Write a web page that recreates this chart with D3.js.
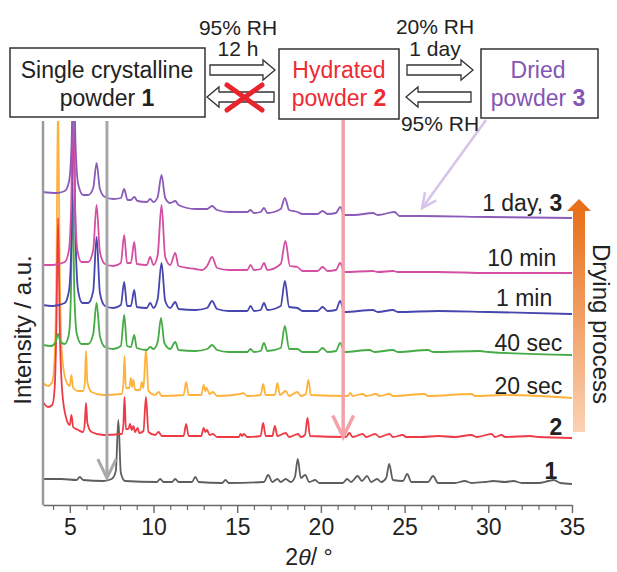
<!DOCTYPE html>
<html>
<head>
<meta charset="utf-8">
<script src="https://cdn.jsdelivr.net/npm/d3@7/dist/d3.min.js"></script>
<style>
  body { margin: 0; background: #fff; }
  svg { display: block; font-family: 'Liberation Sans', Arial, sans-serif; }
</style>
</head>
<body>
<div id="chart"></div>
<script>
// Data: PXRD patterns, [2theta (deg), intensity above the pattern's offset (a.u.)]
const pattern1 = [[3.4,4],[4.5,4],[5.4,3],[5.6,6],[5.8,3],[7.0,2],[7.5,4],[7.75,12],[7.9,63],[8.05,10],[8.3,2],[10.2,1],[10.4,4],[10.6,1],[11.1,1],[11.3,4],[11.5,1],[12.3,1],[12.5,6],[12.7,1],[14.1,0],[14.3,3],[14.5,0],[16.6,1],[16.85,8],[17.1,1],[17.4,4],[17.6,1],[17.9,4],[18.2,1],[18.45,6],[18.62,24],[18.8,5],[19.06,8],[19.3,1],[19.66,3],[19.9,0],[21.3,0],[21.57,4],[21.8,1],[22.2,7],[22.45,2],[22.76,7],[23.0,1],[23.36,4],[23.6,1],[23.9,5],[24.08,19],[24.3,3],[24.9,2],[25.16,9],[25.4,1],[26.4,1],[26.7,7],[27.0,0],[28,0],[28.6,2],[29,0],[29.8,1],[30.3,2],[31,1],[31.5,2],[32,0],[33.0,0],[33.6,2],[33.9,3],[34.3,0],[35,-1]]
const pattern2 = [[3.4,35],[3.7,30],[3.95,32],[4.1,50],[4.2,110],[4.3,219],[4.4,110],[4.55,45],[4.8,18],[5.0,12],[5.1,22],[5.2,10],[5.5,7],[5.8,5],[5.9,15],[5.97,34],[6.05,14],[6.3,5],[7,2],[8.1,3],[8.2,12],[8.27,40],[8.35,8],[8.5,8],[8.6,13],[8.7,7],[8.8,11],[8.9,5],[9.05,9],[9.15,4],[9.4,6],[9.55,40],[9.7,5],[10.1,2],[10.3,5],[10.5,1],[11.8,1],[11.95,13],[12.1,1],[12.85,1],[13.0,9],[13.1,5],[13.2,7],[13.35,2],[13.55,3],[13.8,0],[15.1,0],[15.2,3],[15.3,1],[15.4,3],[15.6,0],[16.4,1],[16.55,14],[16.7,1],[17.1,1],[17.25,11],[17.4,1],[17.9,4],[18.1,0],[18.64,3],[18.8,0],[19.05,2],[19.2,19],[19.35,1],[21.5,0],[21.7,4],[21.9,0],[22.5,3],[22.7,0],[23.25,3],[23.5,0],[24.1,3],[24.3,0],[24.9,2],[25.1,0],[26,0],[27,1],[28,0],[29.0,2],[29.3,0],[30.2,3],[30.4,0],[30.8,2],[31.0,0],[32.5,1],[33,0],[35,-1]]
const pattern20s = [[3.4,13],[3.7,10],[3.95,14],[4.1,40],[4.2,120],[4.3,300],[4.4,120],[4.55,38],[4.8,14],[5.0,10],[5.1,21],[5.2,8],[5.5,5],[5.8,5],[5.9,14],[5.97,45],[6.05,14],[6.3,4],[7,1],[8.1,2],[8.2,12],[8.27,40],[8.35,8],[8.55,8],[8.65,18],[8.72,9],[8.8,16],[8.9,6],[9.2,6],[9.3,14],[9.4,8],[9.55,47],[9.7,5],[10.1,1],[10.3,4],[10.5,0],[11.8,1],[11.95,14],[12.1,1],[12.85,1],[13.0,11],[13.1,5],[13.17,8],[13.35,2],[13.55,4],[13.8,0],[15.2,2],[15.35,3],[15.6,0],[16.4,1],[16.55,12],[16.7,1],[17.25,1],[17.4,13],[17.55,1],[17.9,5],[18.1,0],[18.6,4],[18.8,0],[19.1,2],[19.25,16],[19.4,1],[21.6,0],[21.75,3],[21.9,0],[22.5,2],[22.7,0],[23.3,2],[23.5,0],[24.1,2],[24.3,0],[26.2,2],[26.4,0],[29,2],[29.2,0],[31,1],[33,0],[35,-2]]
const pattern40s = [[3.4,7],[3.9,6],[4.15,10],[4.3,18],[4.45,10],[4.7,8],[4.95,18],[5.07,60],[5.17,170],[5.27,60],[5.42,18],[5.7,8],[6.1,8],[6.4,18],[6.6,49],[6.8,16],[7.1,5],[7.6,3],[8.05,6],[8.25,37],[8.42,6],[8.65,5],[8.85,17],[9.0,4],[9.6,2],[9.8,5],[10.0,3],[10.25,10],[10.45,34],[10.65,9],[11.0,3],[11.3,10],[11.5,2],[12.5,1],[13.2,3],[13.5,7],[13.8,2],[14.5,0],[15.6,0],[15.8,3],[16.0,0],[16.4,1],[16.6,9],[16.8,1],[17.6,4],[17.85,26],[18.1,3],[18.6,3],[18.9,0],[19.8,0],[20.1,4],[20.4,0],[20.9,1],[21.15,9],[21.4,0],[22.9,2],[23.2,0],[24.3,2],[24.6,0],[26.4,2],[26.7,0],[29.5,1],[30,0],[35,-3]]
const pattern1min = [[3.4,6],[4.0,5],[4.7,8],[4.95,20],[5.1,70],[5.22,200],[5.35,70],[5.5,20],[5.75,8],[6.1,8],[6.4,20],[6.6,74],[6.8,18],[7.1,5],[7.6,3],[8.05,6],[8.25,29],[8.42,5],[8.65,5],[8.85,21],[9.0,4],[9.6,3],[9.8,8],[10.0,3],[10.25,12],[10.48,48],[10.7,10],[11.0,3],[11.3,9],[11.5,2],[12.5,1],[13.2,3],[13.5,10],[13.8,2],[14.5,0],[15.6,0],[15.8,5],[16.0,0],[16.4,1],[16.6,8],[16.8,1],[17.6,5],[17.85,30],[18.1,4],[18.6,3],[18.9,0],[19.8,0],[20.1,4],[20.4,0],[20.9,1],[21.15,10],[21.4,-1],[23.1,1],[23.4,-1],[24.3,1],[24.6,-1],[27,0],[30,-1],[35,-3]]
const pattern10min = [[3.4,3],[4.0,3],[4.7,6],[4.95,18],[5.08,60],[5.2,160],[5.32,60],[5.45,18],[5.7,6],[6.1,6],[6.4,18],[6.6,63],[6.8,16],[7.1,4],[7.6,2],[8.05,5],[8.25,33],[8.42,5],[8.65,5],[8.85,26],[9.0,4],[9.6,3],[9.8,11],[10.0,3],[10.25,13],[10.48,63],[10.7,11],[11.0,3],[11.3,15],[11.5,2],[12.5,-1],[12.9,-2],[13.2,2],[13.5,11],[13.8,0],[14.5,-2],[15.6,-2],[15.8,3],[16.0,-2],[16.4,-1],[16.6,5],[16.8,-2],[17.6,4],[17.88,27],[18.15,2],[18.6,1],[18.9,-3],[19.8,-3],[20.1,1],[20.4,-3],[20.9,-2],[21.15,5],[21.4,-4],[23.1,-3],[23.4,-4],[24.3,-3],[24.6,-4],[27,-4],[30,-5],[35,-5]]
const pattern1day = [[3.4,0],[4.2,-1],[4.7,1],[4.95,10],[5.1,45],[5.22,130],[5.35,45],[5.5,8],[5.8,-3],[6.1,-3],[6.4,4],[6.6,29],[6.8,3],[7.1,-5],[7.6,-7],[8.05,-6],[8.25,3],[8.45,-8],[8.65,-8],[8.85,-5],[9.05,-9],[9.6,-10],[9.8,-7],[10.0,-10],[10.25,-5],[10.48,17],[10.7,-6],[11.0,-11],[11.3,-9],[11.5,-13],[12.5,-17],[13.2,-17],[13.5,-14],[13.8,-18],[14.5,-20],[15.6,-20],[15.8,-18],[16.0,-21],[16.4,-20],[16.6,-16],[16.8,-21],[17.6,-17],[17.85,-6],[18.1,-18],[18.6,-20],[18.9,-22],[19.8,-22],[20.1,-19],[20.4,-22],[20.9,-21],[21.15,-15],[21.4,-23],[22.0,-23],[23.1,-21],[23.4,-23],[24.4,-20],[24.7,-24],[26,-24],[30,-25],[35,-26]]

// stacking offsets (a.u.), bottom to top
const offsets = [22, 68, 109, 153, 194, 237, 313]
const seriesColors = ['#5e5e5e', '#ee3a45', '#ffb23a', '#45ab45', '#4646ae', '#d44ea2', '#8a5bb8']
// trace labels: [normal part, bold part], anchor 2theta, baseline level (a.u.)
const labelText = [['', '1'], ['', '2'], ['20 sec', ''], ['40 sec', ''], ['1 min', ''], ['10 min', ''], ['1 day, ', '3']]
const labelX = [34.12, 34.42, 34.42, 34.42, 33.82, 34.06, 34.42]
const labelLevel = [26, 70, 111, 154, 199, 239, 294]

const majorTicks = [5, 10, 15, 20, 25, 30, 35]
const minorTicks = d3.range(4, 36)

// annotation arrows: 2theta, tip level (a.u.)
const grayArrow = [7.22, 27]
const pinkArrow = [21.33, 68]
const lilacArrow = [26.05, 297]

function draw() {
  const patterns = [pattern1, pattern2, pattern20s, pattern40s, pattern1min, pattern10min, pattern1day]
  const drawOrder = [0, 2, 1, 3, 4, 5, 6]

  let dimensions = {
    width: 617,
    height: 572,
    margins: { top: 121, bottom: 67, left: 43, right: 45 }
  }
  dimensions.ctrWidth = dimensions.width - dimensions.margins.left - dimensions.margins.right
  dimensions.ctrHeight = dimensions.height - dimensions.margins.top - dimensions.margins.bottom

  const svg = d3.select('#chart')
    .append('svg')
    .attr('width', dimensions.width)
    .attr('height', dimensions.height)

  const defs = svg.append('defs')
  defs.append('clipPath').attr('id', 'plot-clip')
    .append('rect')
    .attr('width', dimensions.ctrWidth)
    .attr('height', dimensions.ctrHeight)

  const grad = defs.append('linearGradient')
    .attr('id', 'dry-grad')
    .attr('x1', 0).attr('y1', 0).attr('x2', 0).attr('y2', 1)
  grad.append('stop').attr('offset', '0%').attr('stop-color', '#e8701a')
  grad.append('stop').attr('offset', '100%').attr('stop-color', '#fbd2b4')

  const ctr = svg.append('g')
    .attr('transform', `translate(${dimensions.margins.left}, ${dimensions.margins.top})`)

  // Scales
  const xScale = d3.scaleLinear()
    .domain([3.4, 35])
    .range([0, dimensions.ctrWidth])
  const yScale = d3.scaleLinear()
    .domain([0, dimensions.ctrHeight])
    .range([dimensions.ctrHeight, 0])

  // Patterns
  const traces = ctr.append('g').attr('clip-path', 'url(#plot-clip)')
  drawOrder.forEach(i => {
    const line = d3.line()
      .x(d => xScale(d[0]))
      .y(d => yScale(d[1] + offsets[i]))
      .curve(d3.curveMonotoneX)
    traces.append('path')
      .datum(patterns[i])
      .attr('d', line)
      .attr('fill', 'none')
      .attr('stroke', seriesColors[i])
      .attr('stroke-width', 1.8)
      .attr('stroke-linejoin', 'round')
  })

  // Trace labels
  labelText.forEach((t, i) => {
    const txt = ctr.append('text')
      .attr('x', xScale(labelX[i]))
      .attr('y', yScale(labelLevel[i]))
      .attr('text-anchor', 'end')
      .attr('font-size', 23)
      .attr('fill', '#222')
    if (t[0]) txt.append('tspan').text(t[0])
    if (t[1]) txt.append('tspan').attr('font-weight', 'bold').text(t[1])
  })

  // Axes
  const xAxis = d3.axisBottom(xScale)
    .tickValues(majorTicks)
    .tickSize(8)
    .tickSizeOuter(0)
    .tickPadding(6)
  const xAxisGroup = ctr.append('g')
    .attr('transform', `translate(0, ${dimensions.ctrHeight})`)
    .call(xAxis)
  xAxisGroup.select('.domain').attr('stroke', '#6a6a6a').attr('stroke-width', 1.6)
  xAxisGroup.selectAll('.tick line').attr('stroke', '#6a6a6a').attr('stroke-width', 1.4)
  xAxisGroup.selectAll('.tick text')
    .attr('font-size', 23)
    .attr('font-family', "'Liberation Sans', Arial, sans-serif")
    .attr('fill', '#222')

  const minorAxis = d3.axisBottom(xScale)
    .tickValues(minorTicks.filter(v => !majorTicks.includes(v)))
    .tickSize(5)
    .tickSizeOuter(0)
    .tickFormat('')
  const minorGroup = ctr.append('g')
    .attr('transform', `translate(0, ${dimensions.ctrHeight})`)
    .call(minorAxis)
  minorGroup.select('.domain').remove()
  minorGroup.selectAll('.tick line').attr('stroke', '#6a6a6a').attr('stroke-width', 1.2)

  // left axis line
  ctr.append('line')
    .attr('x1', 0).attr('x2', 0)
    .attr('y1', 0).attr('y2', dimensions.ctrHeight)
    .attr('stroke', '#9a9a9a')
    .attr('stroke-width', 2.5)

  // Axis titles
  svg.append('text')
    .attr('transform', `translate(22, 330) rotate(-90)`)
    .attr('text-anchor', 'middle')
    .attr('dominant-baseline', 'central')
    .attr('font-size', 24)
    .attr('fill', '#222')
    .text('Intensity / a.u.')

  const xTitle = svg.append('text')
    .attr('x', 309)
    .attr('y', 565)
    .attr('text-anchor', 'middle')
    .attr('font-size', 23)
    .attr('fill', '#222')
  xTitle.append('tspan').text('2')
  xTitle.append('tspan').attr('font-style', 'italic').text('θ')
  xTitle.append('tspan').text('/ °')

  // Annotation arrows in plot
  const chevron = (g, x, y, dx, dy, len, color, w) => {
    const a = Math.atan2(dy, dx)
    const pts = [a + Math.PI - 0.45, a + Math.PI + 0.45].map(b => [x + len * Math.cos(b), y + len * Math.sin(b)])
    g.append('path')
      .attr('d', `M${pts[0][0]},${pts[0][1]}L${x},${y}L${pts[1][0]},${pts[1][1]}`)
      .attr('fill', 'none')
      .attr('stroke', color)
      .attr('stroke-width', w)
      .attr('stroke-linejoin', 'miter')
  }

  const gx = xScale(grayArrow[0]), gy = yScale(grayArrow[1])
  ctr.append('line').attr('x1', gx).attr('x2', gx).attr('y1', 0).attr('y2', gy - 2)
    .attr('stroke', '#a8a8a8').attr('stroke-width', 3)
  chevron(ctr, gx, gy, 0, 1, 21, '#a8a8a8', 3)

  const px = xScale(pinkArrow[0]), py = yScale(pinkArrow[1])
  ctr.append('line').attr('x1', px).attr('x2', px).attr('y1', -1).attr('y2', py - 2)
    .attr('stroke', '#f4a2a9').attr('stroke-width', 3.5)
  chevron(ctr, px, py, 0, 1, 24, '#f4a2a9', 3.5)

  const lx = xScale(lilacArrow[0]), ly = yScale(lilacArrow[1])
  const lx0 = 486 - dimensions.margins.left, ly0 = -1
  ctr.append('line').attr('x1', lx0).attr('y1', ly0).attr('x2', lx).attr('y2', ly)
    .attr('stroke', '#d8c4e8').attr('stroke-width', 2.6)
  chevron(ctr, lx, ly, lx - lx0, ly - ly0, 16, '#d8c4e8', 2.6)

  // Drying process arrow
  const dry = svg.append('g')
  dry.append('rect')
    .attr('x', 573).attr('y', 210).attr('width', 12).attr('height', 222)
    .attr('fill', 'url(#dry-grad)')
  dry.append('path')
    .attr('d', 'M567,211L591,211L579,199Z')
    .attr('fill', '#e8701a')
  svg.append('text')
    .attr('transform', 'translate(601, 324) rotate(90)')
    .attr('text-anchor', 'middle')
    .attr('dominant-baseline', 'central')
    .attr('font-size', 24)
    .attr('fill', '#222')
    .text('Drying process')

  // Scheme on top: boxes and hollow arrows
  const boxes = [
    { x: 10, y: 48, w: 195, h: 69, lines: [['Single crystalline', ''], ['powder ', '1']], color: '#222', cx: 107 },
    { x: 279, y: 49, w: 120, h: 70, lines: [['Hydrated', ''], ['powder ', '2']], color: '#ee2a33', cx: 339 },
    { x: 481, y: 49, w: 117, h: 69, lines: [['Dried', ''], ['powder ', '3']], color: '#8455b4', cx: 538 }
  ]
  boxes.forEach(b => {
    svg.append('rect')
      .attr('x', b.x).attr('y', b.y).attr('width', b.w).attr('height', b.h)
      .attr('fill', '#fff').attr('stroke', '#333').attr('stroke-width', 1.5)
    b.lines.forEach((l, j) => {
      const t = svg.append('text')
        .attr('x', b.cx).attr('y', 78 + j * 28)
        .attr('text-anchor', 'middle')
        .attr('font-size', 23)
        .attr('fill', b.color)
      t.append('tspan').text(l[0])
      if (l[1]) t.append('tspan').attr('font-weight', 'bold').text(l[1])
    })
  })

  const hollowArrow = (x0, x1, y) => {
    const dir = Math.sign(x1 - x0), xh = x1 - dir * 12
    const pts = [[x0, y - 5], [xh, y - 5], [xh, y - 10], [x1, y], [xh, y + 10], [xh, y + 5], [x0, y + 5]]
    svg.append('path')
      .attr('d', 'M' + pts.map(p => p.join(',')).join('L') + 'Z')
      .attr('fill', '#fff')
      .attr('stroke', '#333')
      .attr('stroke-width', 1.3)
  }
  hollowArrow(210, 275, 70)
  hollowArrow(274, 207, 97)
  hollowArrow(407, 473, 70)
  hollowArrow(471, 406, 97)

  // red cross on the blocked reverse path
  svg.append('path')
    .attr('d', 'M227,85L262,110M227,110L262,85')
    .attr('stroke', '#e8242c')
    .attr('stroke-width', 5)
    .attr('stroke-linecap', 'round')

  const condText = [
    ['95% RH', 238, 35], ['12 h', 238, 56],
    ['20% RH', 435, 34], ['1 day', 435, 56],
    ['95% RH', 440, 131]
  ]
  condText.forEach(c => {
    svg.append('text')
      .attr('x', c[1]).attr('y', c[2])
      .attr('text-anchor', 'middle')
      .attr('font-size', 21)
      .attr('fill', '#222')
      .text(c[0])
  })
}

draw()
</script>
</body>
</html>
